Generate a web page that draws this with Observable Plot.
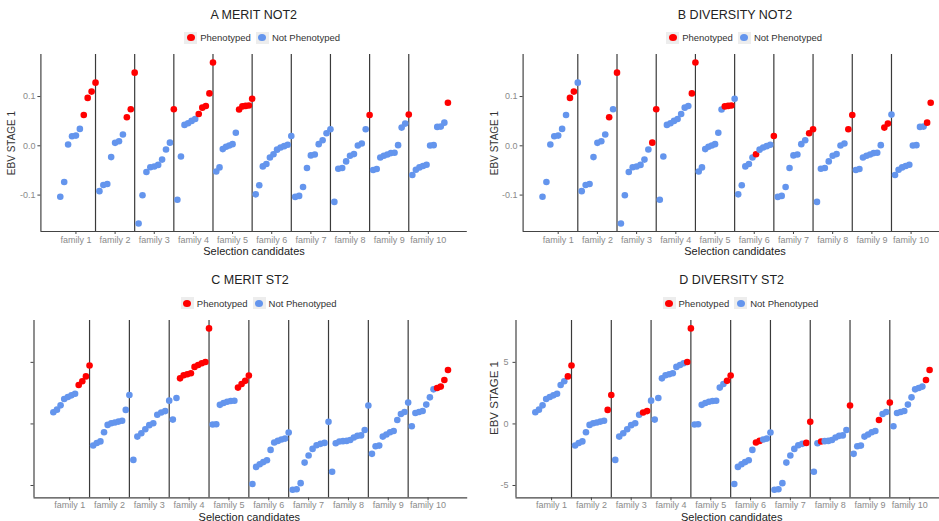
<!DOCTYPE html>
<html><head><meta charset="utf-8">
<script src="https://cdn.jsdelivr.net/npm/d3@7"></script>
<script src="https://cdn.jsdelivr.net/npm/@observablehq/plot@0.6"></script>
<style>
html,body{margin:0;padding:0;background:#fff;overflow:hidden;}
body{width:939px;height:521px;position:relative;font-family:"Liberation Sans",Arial,sans-serif;}
.abs{position:absolute;white-space:nowrap;}
.title{font-size:12.5px;color:#222;transform:translate(-50%,-50%);}
.xlab{font-size:11px;line-height:1;color:#222;transform:translate(-50%,-50%);}
.ylab{color:#333;line-height:1;transform:translate(-50%,-50%) rotate(-90deg);}
.legend{display:flex;align-items:center;font-size:9.5px;color:#333;}
.key{width:13px;height:12px;background:#ededed;display:flex;align-items:center;justify-content:center;margin-right:3px;}
.key span{width:8px;height:7px;border-radius:50%;display:block;}
svg{position:absolute;overflow:visible;}
</style></head><body>
<script>
const families = [1, 2, 3, 4, 5, 6, 7, 8, 9, 10];
const familyLabels = families.map(f => "family " + f);
const dividers = [1.5, 2.5, 3.5, 4.5, 5.5, 6.5, 7.5, 8.5, 9.5];
const seriesNames = ["Phenotyped", "Not Phenotyped"];
const seriesColors = ["#ff0000", "#6495ed"];
const panelTitles = ["A MERIT NOT2", "B DIVERSITY NOT2", "C MERIT ST2", "D DIVERSITY ST2"];
const yTicksNot2 = [-0.1, 0, 0.1];
const yTicksSt2 = [-5, 0, 5];

// EBV stage 1 of candidates, sorted within each family (shared by panels A and B)
const ebvNot2 = [
  [-0.1035, -0.0735, 0.0027, 0.0195, 0.0207, 0.0343, 0.0626, 0.0972, 0.1100, 0.1282],
  [-0.0920, -0.0795, -0.0775, -0.0229, 0.0060, 0.0094, 0.0229, 0.0579, 0.0741, 0.1485],
  [-0.1576, -0.1003, -0.0532, -0.0435, -0.0420, -0.0387, -0.0280, -0.0074, 0.0064, 0.0741],
  [-0.1095, -0.0218, 0.0424, 0.0458, 0.0505, 0.0545, 0.0646, 0.0774, 0.0808, 0.1064, 0.1690],
  [-0.0522, -0.0438, -0.0067, -0.0020, 0.0007, 0.0034, 0.0266, 0.0738, 0.0800, 0.0810, 0.0818, 0.0956],
  [-0.0985, -0.0800, -0.0418, -0.0370, -0.0236, -0.0172, -0.0078, -0.0034, -0.0007, 0.0020, 0.0199],
  [-0.1037, -0.1017, -0.0835, -0.0451, -0.0195, -0.0175, 0.0034, 0.0114, 0.0256, 0.0337],
  [-0.1138, -0.0465, -0.0451, -0.0316, -0.0202, -0.0168, 0.0007, 0.0047, 0.0337, 0.0626],
  [-0.0492, -0.0471, -0.0236, -0.0202, -0.0175, -0.0148, -0.0141, 0.0013, 0.0370, 0.0451, 0.0633],
  [-0.0593, -0.0485, -0.0438, -0.0411, -0.0384, 0.0007, 0.0013, 0.0384, 0.0390, 0.0470, 0.0875]
];
// EBV stage 1 (shared by panels C and D)
const ebvSt2 = [
  [0.95, 1.16, 1.51, 2.02, 2.19, 2.32, 2.45, 3.16, 3.46, 3.86, 4.75],
  [-1.75, -1.55, -1.42, -0.68, -0.08, 0.05, 0.11, 0.19, 0.26, 1.14, 2.35],
  [-2.92, -1.03, -0.76, -0.43, -0.10, 0.05, 0.75, 0.93, 1.04, 1.89],
  [0.35, 2.10, 3.70, 3.95, 4.03, 4.11, 4.63, 4.78, 4.93, 5.03, 7.76],
  [-0.05, -0.03, 1.55, 1.70, 1.80, 1.86, 1.88, 2.95, 3.24, 3.50, 3.93],
  [-4.88, -3.49, -3.28, -3.10, -2.95, -2.11, -1.51, -1.38, -1.27, -1.19, -0.70],
  [-5.35, -5.30, -4.81, -3.14, -2.57, -2.03, -1.73, -1.62, -1.54, 0.17],
  [-3.88, -1.57, -1.43, -1.40, -1.38, -1.30, -1.10, -0.97, -0.93, -0.49, 1.50],
  [-2.43, -1.81, -1.76, -1.03, -0.86, -0.68, -0.57, 0.32, 0.81, 0.97, 1.73],
  [-0.19, 0.89, 0.97, 1.05, 1.57, 2.16, 2.81, 2.92, 3.03, 3.57, 4.38]
];
// indices (within each family) of phenotyped candidates
const phenoMeritNot2 = [[6,7,8,9],[7,8,9],[9],[6,7,8,9,10],[7,8,9,10,11],[],[],[9],[10],[10]];
const phenoDiversityNot2 = [[7,8],[7,9],[8,9],[9,10],[8,9,10],[5,10],[8,9],[8,9],[8,9],[9,10]];
const phenoMeritSt2 = [[7,8,9,10],[],[],[2,3,4,5,6,7,8,9,10],[7,8,9,10],[],[],[],[],[7,8,9,10]];
const phenoDiversitySt2 = [[9,10],[9,10],[7,8],[9,10],[9,10],[6,7],[8,9],[2,10],[7,10],[9,10]];

function rows(values, pheno) {
  const out = [];
  values.forEach((vals, fi) => {
    const n = vals.length;
    vals.forEach((v, i) => out.push({
      x: families[fi] - 0.5 + (i + 1) / n,
      y: v,
      status: pheno[fi].includes(i) ? seriesNames[0] : seriesNames[1]
    }));
  });
  return out;
}

const xDomain = [0.105, 10.995];

function panel(o) {
  const data = rows(o.values, o.pheno);
  const svg = Plot.plot({
    width: o.width, height: o.height,
    marginLeft: o.ml, marginRight: o.mr, marginTop: o.mt, marginBottom: o.mb,
    x: {domain: xDomain, axis: null},
    y: {domain: o.yDomain, axis: null},
    color: {domain: seriesNames, range: seriesColors},
    style: {fontFamily: "Liberation Sans, Arial, sans-serif", background: "transparent", overflow: "visible"},
    marks: [
      Plot.ruleX(dividers, {stroke: "#3a3a3a", strokeWidth: 1.2}),
      Plot.ruleX([xDomain[0]], {stroke: "#444", strokeWidth: 1.2}),
      Plot.ruleY([o.yDomain[0]], {stroke: "#444", strokeWidth: 1.2}),
      Plot.axisX(families, {tickFormat: d => familyLabels[d - 1], tickSize: 3, tickPadding: o.xp, stroke: "#444", fill: "#8a8a8a", fontSize: 9, label: null}),
      Plot.axisY(o.yTicks, {tickFormat: o.yFormat, tickSize: 3, tickPadding: o.tp, stroke: "#444", fill: "#8a8a8a", fontSize: 9, label: null}),
      Plot.dot(data, {x: "x", y: "y", fill: "status", r: 3.3})
    ]
  });
  svg.style.left = o.left + "px";
  svg.style.top = o.top + "px";
  document.body.appendChild(svg);
}

function addText(cls, text, x, y, extra) {
  const d = document.createElement("div");
  d.className = "abs " + cls;
  d.textContent = text;
  d.style.left = x + "px";
  d.style.top = y + "px";
  if (extra) Object.assign(d.style, extra);
  document.body.appendChild(d);
}

function legend(x, y) {
  const d = document.createElement("div");
  d.className = "abs legend";
  d.style.left = x + "px";
  d.style.top = y + "px";
  seriesNames.forEach((name, i) => {
    const k = document.createElement("div");
    k.className = "key";
    const s = document.createElement("span");
    s.style.background = seriesColors[i];
    k.appendChild(s);
    d.appendChild(k);
    const t = document.createElement("span");
    t.textContent = name;
    t.style.marginRight = i === 0 ? "5px" : "0";
    d.appendChild(t);
  });
  document.body.appendChild(d);
}

const fmtNot2 = d => d.toFixed(1);
const fmtSt2 = d => String(d);
const fmtNone = () => "";

panel({values: ebvNot2, pheno: phenoMeritNot2, left: 0, top: 0, width: 470, height: 260, ml: 40.4, mr: 3.2, mt: 54, mb: 29, yDomain: [-0.1739, 0.1853], yTicks: yTicksNot2, yFormat: fmtNot2, tp: 2.5, xp: 2});
panel({values: ebvNot2, pheno: phenoDiversityNot2, left: 490, top: 0, width: 462, height: 260, ml: 32.6, mr: 2.4, mt: 54, mb: 29, yDomain: [-0.1739, 0.1853], yTicks: yTicksNot2, yFormat: fmtNot2, tp: 2.5, xp: 2});
panel({values: ebvSt2, pheno: phenoMeritSt2, left: 0, top: 260, width: 470, height: 261, ml: 33.5, mr: 2.8, mt: 60, mb: 23.7, yDomain: [-6.0, 8.4], yTicks: yTicksSt2, yFormat: fmtNone, tp: 2.5, xp: 1});
panel({values: ebvSt2, pheno: phenoDiversitySt2, left: 490, top: 260, width: 462, height: 261, ml: 25.5, mr: 3.2, mt: 60, mb: 23.7, yDomain: [-6.0, 8.4], yTicks: yTicksSt2, yFormat: fmtSt2, tp: 4.5, xp: 1});

addText("title", panelTitles[0], 253.7, 14.7);
addText("title", panelTitles[1], 735, 14.7);
addText("title", panelTitles[2], 250, 280);
addText("title", panelTitles[3], 731.7, 280);

legend(184.2, 31.7);
legend(666.2, 31.7);
legend(180.8, 297.3);
legend(662.5, 297.3);

addText("xlab", "Selection candidates", 254, 250.5);
addText("xlab", "Selection candidates", 735, 250.5);
addText("xlab", "Selection candidates", 249.3, 516.5);
addText("xlab", "Selection candidates", 731.7, 516.5);

addText("ylab", "EBV STAGE 1", 12, 142.5, {fontSize: "10px"});
addText("ylab", "EBV STAGE 1", 495, 142.5, {fontSize: "10px"});
addText("ylab", "EBV STAGE 1", 495, 397.5, {fontSize: "11.5px"});
</script>
</body></html>
